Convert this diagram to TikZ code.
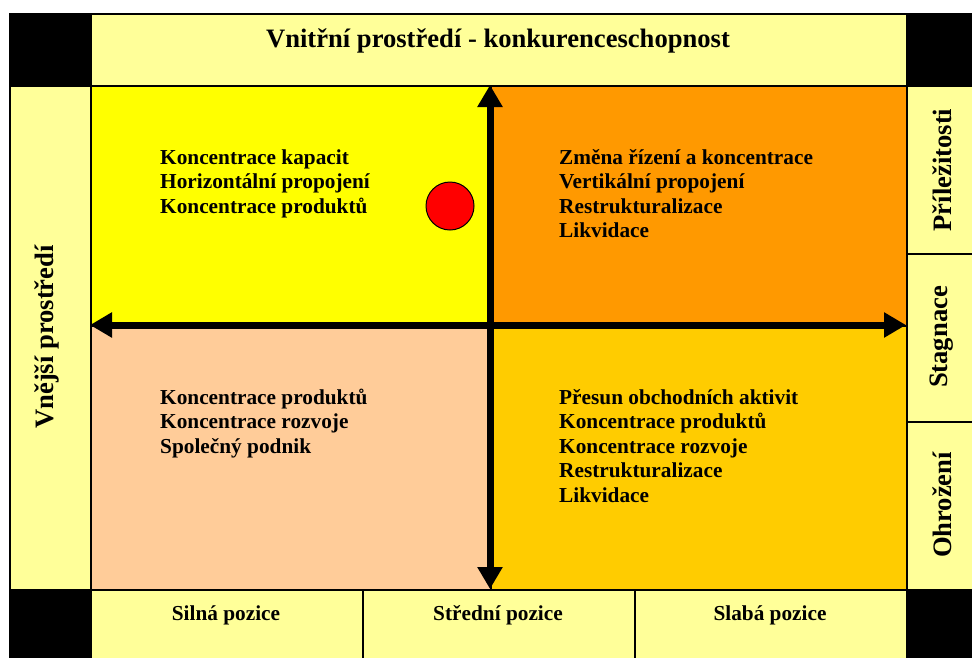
\documentclass[tikz,border=0pt]{standalone}
\usepackage{fontspec}
\setmainfont{Liberation Serif}
\usetikzlibrary{arrows.meta}
\definecolor{lightyel}{HTML}{FFFF99}
\definecolor{qyel}{HTML}{FFFF00}
\definecolor{qorange}{HTML}{FF9900}
\definecolor{qpeach}{HTML}{FFCC99}
\definecolor{qgold}{HTML}{FFCC00}
\begin{document}
\begin{tikzpicture}[x=1pt,y=-1pt,
  cell/.style={draw=black, line width=1.5pt, inner sep=0pt, anchor=north west},
  blk/.style={cell, fill=black},
  big/.style={font=\fontsize{26.6}{30}\selectfont\bfseries, inner sep=0pt},
  small/.style={font=\fontsize{21.3}{24.5}\selectfont\bfseries, inner sep=0pt, anchor=base west},
  axis/.style={line width=7pt, {Triangle[width=24pt,length=22pt]}-{Triangle[width=24pt,length=22pt]}}]
\useasboundingbox (0,0) rectangle (972,657);
\fill[white] (0,0) rectangle (972,657);
% top row
\node[blk, minimum width=81pt, minimum height=72pt] (b1) at (9,13) {};
\node[cell, fill=lightyel, minimum width=816pt, minimum height=72pt] (title) at (90,13) {};
\node[blk, minimum width=70pt, minimum height=72pt] (b2) at (906,13) {};
% left column
\node[cell, fill=lightyel, minimum width=81pt, minimum height=504pt] (left) at (9,85) {};
% quadrants
\node[cell, fill=qyel, minimum width=400pt, minimum height=240pt] (tl) at (90,85) {};
\node[cell, fill=qorange, minimum width=416pt, minimum height=240pt] (tr) at (490,85) {};
\node[cell, fill=qpeach, minimum width=400pt, minimum height=264pt] (bl) at (90,325) {};
\node[cell, fill=qgold, minimum width=416pt, minimum height=264pt] (br) at (490,325) {};
% right column
\node[cell, fill=lightyel, minimum width=70pt, minimum height=168pt] (r1) at (906,85) {};
\node[cell, fill=lightyel, minimum width=70pt, minimum height=168pt] (r2) at (906,253) {};
\node[cell, fill=lightyel, minimum width=70pt, minimum height=168pt] (r3) at (906,421) {};
% bottom row
\node[blk, minimum width=81pt, minimum height=72pt] (b3) at (9,589) {};
\node[cell, fill=lightyel, minimum width=272pt, minimum height=72pt] (s1) at (90,589) {};
\node[cell, fill=lightyel, minimum width=272pt, minimum height=72pt] (s2) at (362,589) {};
\node[cell, fill=lightyel, minimum width=272pt, minimum height=72pt] (s3) at (634,589) {};
\node[blk, minimum width=70pt, minimum height=72pt] (b4) at (906,589) {};
% axes
\coordinate (atop) at (490,85);
\coordinate (abot) at (490,589);
\coordinate (aleft) at (90,325);
\coordinate (aright) at (906,325);
\draw[axis] (abot) -- (atop);
\draw[axis] (aleft) -- (aright);
% red circle
\node[circle, draw=black, line width=1pt, fill=red, minimum size=48pt, inner sep=0pt] (dot) at (450,206) {};
% labels
\node[big] (ttl) at (498,41) {Vnitřní prostředí - konkurenceschopnost};
\node[big, rotate=90] (lt) at (47,337) {Vnější prostředí};
\node[big, rotate=90] (rt1) at (942,170) {Příležitosti};
\node[big, rotate=90] (rt2) at (942,337) {Stagnace};
\node[big, rotate=90] (rt3) at (942,505) {Ohrožení};
\node[small, anchor=base] (l1) at (226,620) {Silná pozice};
\node[small, anchor=base] (l2) at (498,620) {Střední pozice};
\node[small, anchor=base] (l3) at (770,620) {Slabá pozice};
% quadrant texts
\node[small] (tl1) at (160,164) {Koncentrace kapacit};
\node[small] (tl2) at (160,188.5) {Horizontální propojení};
\node[small] (tl3) at (160,213) {Koncentrace produktů};
\node[small] (tr1) at (559,164) {Změna řízení a koncentrace};
\node[small] (tr2) at (559,188.5) {Vertikální propojení};
\node[small] (tr3) at (559,213) {Restrukturalizace};
\node[small] (tr4) at (559,237.5) {Likvidace};
\node[small] (bl1) at (160,404) {Koncentrace produktů};
\node[small] (bl2) at (160,428.5) {Koncentrace rozvoje};
\node[small] (bl3) at (160,453) {Společný podnik};
\node[small] (br1) at (559,404) {Přesun obchodních aktivit};
\node[small] (br2) at (559,428.5) {Koncentrace produktů};
\node[small] (br3) at (559,453) {Koncentrace rozvoje};
\node[small] (br4) at (559,477.5) {Restrukturalizace};
\node[small] (br5) at (559,502) {Likvidace};
\end{tikzpicture}
\end{document}
